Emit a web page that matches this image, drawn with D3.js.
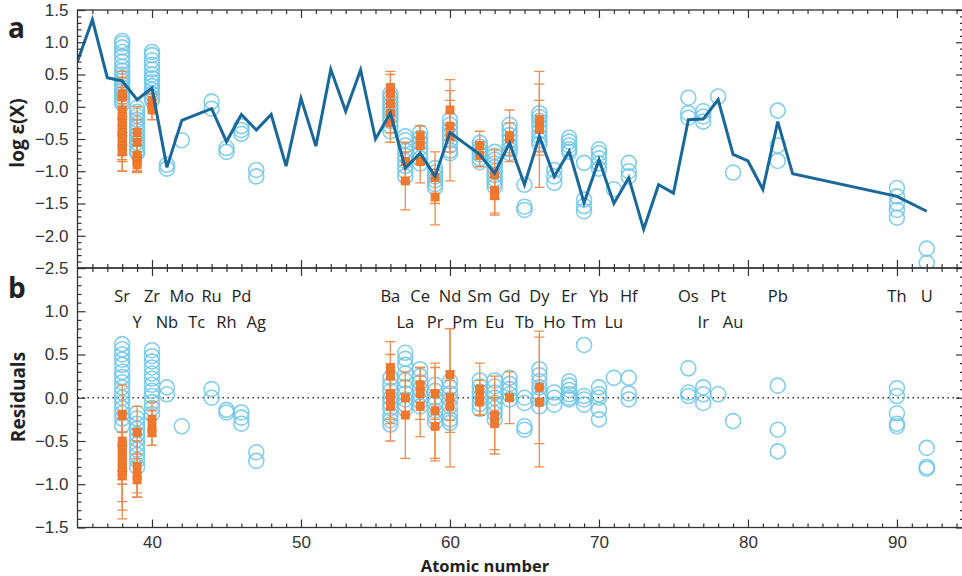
<!DOCTYPE html>
<html>
<head>
<meta charset="utf-8">
<script src="https://cdn.jsdelivr.net/npm/d3@7"></script>
<style>
  body { margin: 0; background: #fff; }
  svg { font-family: "Open Sans", sans-serif; }
</style>
</head>
<body>
<script>
// solar r-process pattern (line in panel a)
var lineZ    = [35, 36, 37, 38, 39, 40, 41, 42, 44, 45, 46, 47, 48, 49, 50, 51, 52, 53, 54, 55, 56, 57, 58, 59, 60,
                62, 63, 64, 65, 66, 67, 68, 69, 70, 71, 72, 73, 74, 75, 76, 77, 78, 79, 80, 81, 82, 83, 90, 92];
var lineVals = [0.70, 1.35, 0.45, 0.40, 0.11, 0.29, -0.94, -0.21, -0.03, -0.54, -0.12, -0.36, -0.12, -0.92, 0.13, -0.61,
                0.58, -0.07, 0.57, -0.50, -0.10, -0.95, -0.72, -1.08, -0.40, -0.74, -1.03, -0.56, -1.21, -0.46, -1.08,
                -0.69, -1.49, -0.82, -1.50, -1.10, -1.90, -1.21, -1.34, -0.20, -0.19, 0.11, -0.74, -0.84, -1.28, -0.23,
                -1.04, -1.39, -1.62];

// star abundances, open circles, panel a: [Z, values]
var topCircles = [
  [38, [1.02, 0.98, 0.92, 0.85, 0.78, 0.7, 0.62, 0.56, 0.5, 0.45, 0.4, 0.35, 0.3, 0.25, 0.2, 0.15, 0.1, 0.05]],
  [39, [-0.02, -0.08, -0.14, -0.2, -0.26, -0.32, -0.38, -0.44, -0.5, -0.56, -0.62, -0.68, -0.72]],
  [40, [0.85, 0.8, 0.72, 0.65, 0.58, 0.5, 0.44, 0.38, 0.32, 0.26, 0.2, 0.14, 0.1]],
  [41, [-0.9, -0.96]],
  [42, [-0.52]],
  [44, [0.08, -0.03]],
  [45, [-0.64, -0.7]],
  [46, [-0.3, -0.36, -0.42]],
  [47, [-0.98, -1.08]],
  [56, [0.2, 0.14, 0.08, 0.02, -0.04, -0.1, -0.16, -0.22, -0.3, -0.38]],
  [57, [-0.46, -0.52, -0.6, -0.68, -0.76, -0.84, -0.92, -1.0, -1.08]],
  [58, [-0.4, -0.48, -0.56, -0.64, -0.72, -0.8, -0.88]],
  [59, [-0.95, -1.02, -1.08, -1.14, -1.2, -1.25]],
  [60, [-0.2, -0.28, -0.36, -0.44, -0.52, -0.6, -0.68, -0.72]],
  [62, [-0.56, -0.62, -0.68, -0.74, -0.8, -0.86]],
  [63, [-0.7, -0.76, -0.82, -0.88, -0.94, -1.0, -1.06, -1.12, -1.18, -1.24]],
  [64, [-0.28, -0.36, -0.44, -0.52, -0.6, -0.66, -0.72]],
  [65, [-1.21, -1.55, -1.6]],
  [66, [-0.1, -0.16, -0.22, -0.3, -0.38, -0.46, -0.52, -0.58]],
  [67, [-0.98, -1.08, -1.18]],
  [68, [-0.48, -0.54, -0.6, -0.66, -0.7]],
  [69, [-0.87, -1.44, -1.54, -1.62]],
  [70, [-0.66, -0.72, -0.8, -0.88, -0.96]],
  [71, [-1.28]],
  [72, [-0.87, -1.0, -1.08]],
  [76, [0.14, -0.1, -0.17]],
  [77, [-0.07, -0.15, -0.23]],
  [78, [0.16]],
  [79, [-1.02]],
  [82, [-0.06, -0.6, -0.84]],
  [90, [-1.26, -1.39, -1.5, -1.6, -1.72]],
  [92, [-2.2, -2.42]]
];

// residuals, open circles, panel b
var resCircles = [
  [38, [0.62, 0.56, 0.5, 0.44, 0.38, 0.3, 0.24, 0.18, 0.12, 0.06, 0.0, -0.06, -0.12, -0.18, -0.24, -0.32]],
  [39, [-0.18, -0.24, -0.3, -0.36, -0.42, -0.48, -0.54, -0.6, -0.66, -0.72, -0.8]],
  [40, [0.55, 0.48, 0.42, 0.35, 0.28, 0.22, 0.15, 0.08, 0.02, -0.05, -0.12, -0.19]],
  [41, [0.12, 0.04]],
  [42, [-0.33]],
  [44, [0.1, 0.0]],
  [45, [-0.14, -0.17]],
  [46, [-0.17, -0.23, -0.3]],
  [47, [-0.63, -0.73]],
  [56, [0.23, 0.15, 0.08, 0.0, -0.06, -0.12, -0.2, -0.26, -0.31]],
  [57, [0.52, 0.45, 0.38, 0.28, 0.2, 0.12, 0.05, -0.02, -0.08, -0.13]],
  [58, [0.33, 0.25, 0.18, 0.1, 0.03, -0.04, -0.1]],
  [59, [0.15, 0.08, 0.0, -0.07, -0.15, -0.22, -0.28]],
  [60, [0.19, 0.12, 0.05, -0.02, -0.1, -0.18, -0.25, -0.29]],
  [62, [0.2, 0.13, 0.07, 0.0, -0.07, -0.13]],
  [63, [0.2, 0.13, 0.06, 0.0, -0.06, -0.12, -0.18, -0.25]],
  [64, [0.23, 0.16, 0.1, 0.04, -0.02]],
  [65, [0.0, -0.06, -0.33, -0.37]],
  [66, [0.33, 0.26, 0.19, 0.12, 0.05, -0.02, -0.1]],
  [67, [0.06, 0.0, -0.08]],
  [68, [0.19, 0.14, 0.09, 0.04, 0.0, -0.02]],
  [69, [0.61, 0.02, -0.02, -0.08]],
  [70, [0.12, 0.04, 0.0, -0.14, -0.25]],
  [71, [0.23]],
  [72, [0.23, 0.05, -0.02]],
  [76, [0.34, 0.06, 0.02]],
  [77, [0.12, 0.04, -0.06]],
  [78, [0.04]],
  [79, [-0.27]],
  [82, [0.14, -0.37, -0.62]],
  [90, [0.11, 0.02, -0.18, -0.3, -0.33]],
  [92, [-0.58, -0.8, -0.82]]
];

// orange squares with error bars: [Z, value, error]
var topOrange = [
  [38, 0.2, 0.35], [38, 0.15, 0.3], [38, -0.05, 0.35], [38, -0.15, 0.3], [38, -0.25, 0.35], [38, -0.3, 0.3],
  [38, -0.35, 0.4], [38, -0.4, 0.35], [38, -0.45, 0.3], [38, -0.5, 0.32], [38, -0.55, 0.27], [38, -0.6, 0.4],
  [38, -0.65, 0.2], [38, -0.7, 0.3],
  [39, -0.4, 0.4], [39, -0.55, 0.35], [39, -0.75, 0.25], [39, -0.8, 0.2], [39, -0.85, 0.15], [39, -0.9, 0.12],
  [40, 0.1, 0.1], [40, 0.0, 0.2], [40, -0.05, 0.15],
  [56, 0.3, 0.25], [56, 0.2, 0.3], [56, 0.05, 0.2], [56, -0.1, 0.3], [56, -0.25, 0.3],
  [57, -0.85, 0.3], [57, -1.15, 0.45],
  [58, -0.45, 0.15], [58, -0.6, 0.3], [58, -0.85, 0.33],
  [59, -1.1, 0.4], [59, -1.4, 0.43],
  [60, -0.05, 0.47], [60, -0.3, 0.4], [60, -0.45, 0.7],
  [62, -0.6, 0.22], [62, -0.75, 0.18],
  [63, -1.05, 0.38], [63, -1.3, 0.35], [63, -1.38, 0.3],
  [64, -0.5, 0.25], [64, -0.45, 0.4],
  [66, -0.2, 0.55], [66, -0.3, 0.4], [66, -0.35, 0.9]
];
var resOrange = [
  [38, -0.2, 0.35], [38, -0.5, 0.35], [38, -0.55, 0.3], [38, -0.6, 0.4], [38, -0.65, 0.25], [38, -0.7, 0.3],
  [38, -0.75, 0.2], [38, -0.8, 0.4], [38, -0.85, 0.45], [38, -0.9, 0.5],
  [39, -0.4, 0.3], [39, -0.8, 0.3], [39, -0.9, 0.25], [39, -0.95, 0.2],
  [40, -0.25, 0.2], [40, -0.35, 0.2], [40, -0.4, 0.15],
  [56, 0.35, 0.3], [56, 0.25, 0.25], [56, 0.05, 0.3], [56, 0.0, 0.3], [56, -0.1, 0.4],
  [57, 0.0, 0.2], [57, -0.2, 0.5],
  [58, 0.15, 0.2], [58, 0.05, 0.3], [58, -0.1, 0.35],
  [59, 0.05, 0.3], [59, -0.15, 0.55], [59, -0.33, 0.4],
  [60, 0.27, 0.53], [60, 0.0, 0.8], [60, -0.1, 0.3],
  [62, 0.1, 0.3], [62, 0.0, 0.2], [62, -0.05, 0.15],
  [63, -0.2, 0.45], [63, -0.3, 0.3],
  [64, 0.0, 0.3],
  [66, 0.12, 0.65], [66, -0.05, 0.75]
];

// element names, two rows
var labelsRow1 = [["Sr", 38], ["Zr", 40], ["Mo", 42], ["Ru", 44], ["Pd", 46], ["Ba", 56], ["Ce", 58], ["Nd", 60],
                  ["Sm", 62], ["Gd", 64], ["Dy", 66], ["Er", 68], ["Yb", 70], ["Hf", 72], ["Os", 76], ["Pt", 78],
                  ["Pb", 82], ["Th", 90], ["U", 92]];
var labelsRow2 = [["Y", 39], ["Nb", 41], ["Tc", 43], ["Rh", 45], ["Ag", 47], ["La", 57], ["Pr", 59], ["Pm", 61],
                  ["Eu", 63], ["Tb", 65], ["Ho", 67], ["Tm", 69], ["Lu", 71], ["Ir", 77], ["Au", 79]];

var xMajor   = [40, 50, 60, 70, 80, 90];
var topMajor = [-2.5, -2.0, -1.5, -1.0, -0.5, 0.0, 0.5, 1.0, 1.5];
var resMajor = [-1.5, -1.0, -0.5, 0.0, 0.5, 1.0, 1.5];

var W = 962, H = 576;
var left = 77.5, right = 964;

var x = d3.scaleLinear().domain([35, 94.5]).range([left, right]);
var yTop = d3.scaleLinear().domain([-2.5, 1.5]).range([268, 10]);
var yRes = d3.scaleLinear().domain([-1.5, 1.5]).range([527.5, 268]);

var svg = d3.select("body").append("svg")
    .attr("width", W)
    .attr("height", H);

var defs = svg.append("defs");
defs.append("clipPath").attr("id", "clipTop").append("rect")
    .attr("x", left).attr("y", yTop.range()[1]).attr("width", right - left).attr("height", yTop.range()[0] - yTop.range()[1]);
defs.append("clipPath").attr("id", "clipRes").append("rect")
    .attr("x", left).attr("y", yRes.range()[1]).attr("width", right - left).attr("height", yRes.range()[0] - yRes.range()[1]);

var ink = "#333";
var circleCol = "#6ec6e6";
var orange = "#f07a2c";
var errCol = "#ec8c4e";

// flatten [Z, [values]] into points
function flat(list) {
  var out = [];
  list.forEach(function(d) { d[1].forEach(function(v) { out.push([d[0], v]); }); });
  return out;
}

function drawPanel(y, circles, oranges, clipId) {
  var g = svg.append("g").attr("clip-path", "url(#" + clipId + ")");

  g.selectAll("circle")
    .data(flat(circles))
    .enter().append("circle")
    .attr("cx", function(d) { return x(d[0]); })
    .attr("cy", function(d) { return y(d[1]); })
    .attr("r", 7.5)
    .attr("fill", "none")
    .attr("stroke", circleCol)
    .attr("stroke-width", 1.6)
    .attr("stroke-opacity", 0.85);

  var e = g.selectAll(".err")
    .data(oranges)
    .enter().append("g")
    .attr("class", "err")
    .attr("stroke", errCol)
    .attr("stroke-width", 1.3);
  e.append("line")
    .attr("x1", function(d) { return x(d[0]); })
    .attr("x2", function(d) { return x(d[0]); })
    .attr("y1", function(d) { return y(d[1] - d[2]); })
    .attr("y2", function(d) { return y(d[1] + d[2]); });
  [-1, 1].forEach(function(s) {
    e.append("line")
      .attr("x1", function(d) { return x(d[0]) - 5; })
      .attr("x2", function(d) { return x(d[0]) + 5; })
      .attr("y1", function(d) { return y(d[1] + s * d[2]); })
      .attr("y2", function(d) { return y(d[1] + s * d[2]); });
  });

  g.selectAll(".sq")
    .data(oranges)
    .enter().append("rect")
    .attr("class", "sq")
    .attr("x", function(d) { return x(d[0]) - 4; })
    .attr("y", function(d) { return y(d[1]) - 4; })
    .attr("width", 8)
    .attr("height", 8)
    .attr("fill", orange)
    .attr("stroke", "#e8702a")
    .attr("stroke-width", 0.8);
  return g;
}

function drawAxes(y, major, showX) {
  var y0 = y.range()[0], y1 = y.range()[1];
  var minorX = d3.range(36, 95).filter(function(v) { return v % 10 !== 0; });
  var minorY = d3.range(Math.round(y.domain()[0] * 10), Math.round(y.domain()[1] * 10) + 1)
      .map(function(v) { return v / 10; })
      .filter(function(v) { return Math.abs(v * 2 - Math.round(v * 2)) > 1e-6; });

  var axes = svg.append("g").attr("class", "axes");

  function styleAxis(sel) {
    sel.select(".domain").remove();
    sel.selectAll("line").attr("stroke", ink).attr("stroke-width", 1.2);
    sel.selectAll("text").attr("fill", ink).style("font-size", "17px");
  }

  // bottom edge, ticks pointing up
  axes.append("g").attr("transform", "translate(0," + y0 + ")")
    .call(d3.axisBottom(x).tickValues(minorX).tickSizeInner(-4).tickSizeOuter(0).tickFormat(""))
    .call(styleAxis);
  axes.append("g").attr("transform", "translate(0," + y0 + ")")
    .call(d3.axisBottom(x).tickValues(xMajor).tickSizeInner(-8).tickSizeOuter(0).tickPadding(8)
      .tickFormat(showX ? d3.format("d") : ""))
    .call(styleAxis);

  // top edge, ticks pointing down
  axes.append("g").attr("transform", "translate(0," + y1 + ")")
    .call(d3.axisTop(x).tickValues(minorX).tickSizeInner(-4).tickSizeOuter(0).tickFormat(""))
    .call(styleAxis);
  axes.append("g").attr("transform", "translate(0," + y1 + ")")
    .call(d3.axisTop(x).tickValues(xMajor).tickSizeInner(-8).tickSizeOuter(0).tickFormat(""))
    .call(styleAxis);

  // left edge
  axes.append("g").attr("transform", "translate(" + left + ",0)")
    .call(d3.axisLeft(y).tickValues(minorY).tickSizeInner(-4).tickSizeOuter(0).tickFormat(""))
    .call(styleAxis);
  axes.append("g").attr("transform", "translate(" + left + ",0)")
    .call(d3.axisLeft(y).tickValues(major).tickSizeInner(-8).tickSizeOuter(0).tickPadding(9).tickFormat(d3.format(".1f")))
    .call(styleAxis);

  // right edge
  axes.append("g").attr("transform", "translate(" + right + ",0)")
    .call(d3.axisRight(y).tickValues(minorY).tickSizeInner(-4).tickSizeOuter(0).tickFormat(""))
    .call(styleAxis);
  axes.append("g").attr("transform", "translate(" + right + ",0)")
    .call(d3.axisRight(y).tickValues(major).tickSizeInner(-8).tickSizeOuter(0).tickFormat(""))
    .call(styleAxis);

  axes.append("rect")
    .attr("x", left).attr("y", y1)
    .attr("width", right - left).attr("height", y0 - y1)
    .attr("fill", "none").attr("stroke", ink).attr("stroke-width", 1.3);
  return axes;
}

// panel a
var gTop = drawPanel(yTop, topCircles, topOrange, "clipTop");
var line = d3.line()
    .x(function(d) { return x(d[0]); })
    .y(function(d) { return yTop(d[1]); });
gTop.append("path")
    .datum(d3.zip(lineZ, lineVals))
    .attr("d", line)
    .attr("fill", "none")
    .attr("stroke", "#1a6899")
    .attr("stroke-width", 3);

// panel b
var gRes = svg.append("g");
gRes.append("line")
    .attr("x1", left).attr("x2", right)
    .attr("y1", yRes(0)).attr("y2", yRes(0))
    .attr("stroke", ink)
    .attr("stroke-width", 1.5)
    .attr("stroke-dasharray", "1.5,3.5");
drawPanel(yRes, resCircles, resOrange, "clipRes");

// the residual panel's 1.5 sits on the shared edge with -2.5 -> drop its label
drawAxes(yTop, topMajor, false);
var resAxes = drawAxes(yRes, resMajor, true);
resAxes.selectAll("text").filter(function(d) { return d === 1.5; }).remove();

// element names
svg.append("g").selectAll("text")
    .data(labelsRow1)
    .enter().append("text")
    .attr("x", function(d) { return x(d[1]); })
    .attr("y", 302)
    .attr("text-anchor", "middle")
    .attr("fill", "#222")
    .style("font-size", "16.5px")
    .text(function(d) { return d[0]; });
svg.append("g").selectAll("text")
    .data(labelsRow2)
    .enter().append("text")
    .attr("x", function(d) { return x(d[1]); })
    .attr("y", 328)
    .attr("text-anchor", "middle")
    .attr("fill", "#222")
    .style("font-size", "16.5px")
    .text(function(d) { return d[0]; });

// panel letters
svg.append("text").attr("x", 8).attr("y", 38)
    .style("font-size", "28px").style("font-weight", "bold").attr("fill", "#222").text("a");
svg.append("text").attr("x", 8).attr("y", 298)
    .style("font-size", "28px").style("font-weight", "bold").attr("fill", "#222").text("b");

// axis titles
svg.append("text")
    .attr("transform", "translate(24," + 133 + ") rotate(-90)")
    .attr("text-anchor", "middle")
    .style("font-size", "19px").style("font-weight", "bold").attr("fill", "#222")
    .text("log ε(X)");
svg.append("text")
    .attr("transform", "translate(25," + 397 + ") rotate(-90)")
    .attr("text-anchor", "middle")
    .style("font-size", "19px").style("font-weight", "bold").attr("fill", "#222")
    .text("Residuals");
svg.append("text")
    .attr("x", 485)
    .attr("y", 571.5)
    .attr("text-anchor", "middle")
    .style("font-size", "16.5px").style("font-weight", "bold").attr("fill", "#222")
    .text("Atomic number");
</script>
</body>
</html>
